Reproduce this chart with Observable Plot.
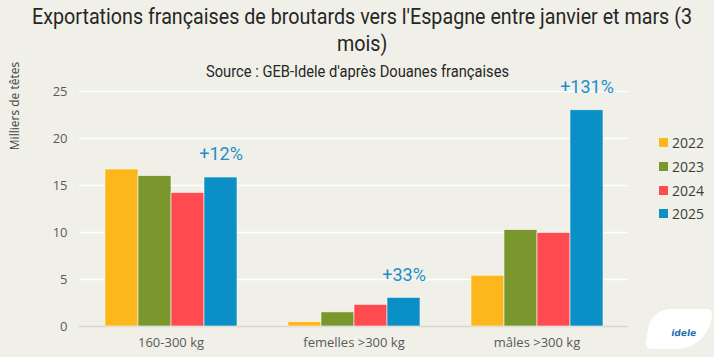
<!DOCTYPE html>
<html>
<head>
<meta charset="utf-8">
<script src="https://cdn.jsdelivr.net/npm/d3@7"></script>
<script src="https://cdn.jsdelivr.net/npm/@observablehq/plot@0.6"></script>
<style>
  html, body { margin: 0; padding: 0; background: #F0F0E8; }
  #wrap { position: relative; width: 714px; height: 357px; overflow: hidden; background: #F0F0E8; font-family: "Open Sans", sans-serif; }
  .fit { position: absolute; white-space: nowrap; font-family: Roboto, sans-serif; color: #262626; transform-origin: 0 0; }
  #t1, #t2 { font-size: 22px; }
  #sub { font-size: 16px; }
  #ylabel { position: absolute; left: 14px; top: 106px; transform: translate(-50%, -50%) rotate(-90deg); white-space: nowrap; font-size: 12px; color: #404040; }
  #legend { position: absolute; left: 659px; top: 131px; font-size: 14px; color: #404040; }
  #legend div { height: 23.7px; display: flex; align-items: center; }
  #legend span.sw { display: inline-block; width: 9px; height: 9px; margin-right: 4px; }
  #logo { position: absolute; left: 648px; top: 309px; width: 62px; height: 40px; background: #fff; border-radius: 20px 6px 30px 6px; transform: skewX(-8deg); }
  #logo span { position: absolute; left: 24px; top: 19px; font: bold 9px "DejaVu Sans", sans-serif; color: #1f6fb2; }
  svg { position: absolute; left: 0; top: 0; }
</style>
</head>
<body>
<div id="wrap">
  <div id="chart"></div>
  <div class="fit" id="t1">Exportations françaises de broutards vers l'Espagne entre janvier et mars (3</div>
  <div class="fit" id="t2">mois)</div>
  <div class="fit" id="sub">Source : GEB-Idele d'après Douanes françaises</div>
  <div id="ylabel">Milliers de têtes</div>
  <div id="legend"></div>
  <div id="logo"><span>idele</span></div>
</div>
<script>
const categories = ["160-300 kg", "femelles >300 kg", "mâles >300 kg"];
const years = ["2022", "2023", "2024", "2025"];
const colors = ["#FDB71C", "#7A972E", "#FF4B50", "#0A8FC6"];
const values2022 = [16.7, 0.45, 5.4];
const values2023 = [16.0, 1.5, 10.25];
const values2024 = [14.2, 2.3, 9.95];
const values2025 = [15.85, 3.05, 23.0];
const changes = ["+12%", "+33%", "+131%"];
const yTicks = [0, 5, 10, 15, 20, 25];

const series = [values2022, values2023, values2024, values2025];
const data = [];
categories.forEach((c, i) => years.forEach((y, j) => data.push({category: c, year: y, value: series[j][i]})));
const labels = categories.map((c, i) => ({category: c, year: "2025", value: values2025[i], text: changes[i]}));

const chart = Plot.plot({
  width: 714,
  height: 357,
  marginLeft: 79,
  marginRight: 86,
  marginTop: 91,
  marginBottom: 31,
  style: {background: "transparent", fontFamily: "'Open Sans', sans-serif", fontSize: "13px", color: "#595959"},
  fx: {domain: categories, padding: 0, axis: "bottom", label: null, tickSize: 0, tickPadding: 11},
  x: {domain: years, paddingInner: 0, paddingOuter: 0.71, axis: null},
  y: {domain: [0, 25], ticks: yTicks, tickSize: 0, tickPadding: 12, label: null},
  color: {domain: years, range: colors},
  marks: [
    Plot.gridY(yTicks.filter(t => t > 0), {stroke: "#ffffff", strokeOpacity: 1, strokeWidth: 1.5}),
    Plot.ruleY([0], {stroke: "#d6d6d0", strokeWidth: 1.5}),
    Plot.barY(data, {fx: "category", x: "year", y: "value", fill: "year", stroke: "#f8f8f2", strokeWidth: 0.6}),
    Plot.text(labels, {fx: "category", x: "year", y: "value", text: "text", dy: -23, fill: "#1A8FC8", fontSize: 18, fontFamily: "Roboto, sans-serif"})
  ]
});
document.getElementById("chart").appendChild(chart);

const legend = document.getElementById("legend");
years.forEach((y, i) => {
  const d = document.createElement("div");
  d.innerHTML = `<span class="sw" style="background:${colors[i]}"></span>${y}`;
  legend.appendChild(d);
});

// condense text lines to the reference's widths (condensed typeface look-alike)
function fit(id, targetWidth, centerX, top) {
  const el = document.getElementById(id);
  const w = el.getBoundingClientRect().width;
  const s = targetWidth / w;
  el.style.left = (centerX - targetWidth / 2) + "px";
  el.style.top = top + "px";
  el.style.transform = `scaleX(${s})`;
}
fit("t1", 660, 362, 4);
const t2w = document.getElementById("t1").getBoundingClientRect().width; // already scaled
const s1 = 660 / (t2w / (660 / t2w) ) ;
// apply same condensation ratio to line 2
(function(){
  const el1 = document.getElementById("t1");
  const ratio = parseFloat(el1.style.transform.match(/scaleX\(([^)]+)\)/)[1]);
  const el = document.getElementById("t2");
  const w = el.getBoundingClientRect().width * ratio;
  el.style.left = (362 - w / 2) + "px";
  el.style.top = "31px";
  el.style.transform = `scaleX(${ratio})`;
})();
fit("sub", 303, 357, 62);
</script>
</body>
</html>
